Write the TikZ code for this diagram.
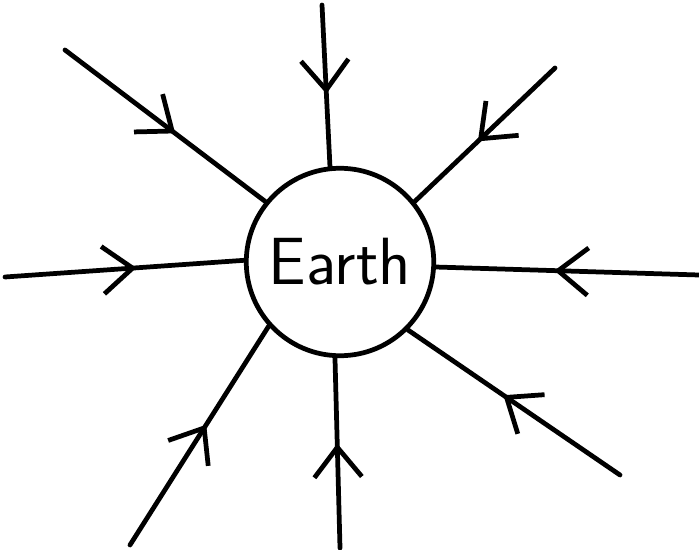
\documentclass[tikz,border=0pt]{standalone}
\usepackage{tikz}
\usetikzlibrary{arrows.meta,decorations.markings}

\begin{document}
\begin{tikzpicture}[x=0.02cm, y=-0.02cm, line width=2.7pt, line cap=round, line join=round,
  inflow/.style={draw, postaction={decorate},
    decoration={markings, mark=at position 0.55 with {\arrow{Straight Barb[length=17pt, width=27pt, line width=2.7pt]}}}}]
  \useasboundingbox (0,0) rectangle (699,550);

  % the planet
  \node[draw, circle, minimum size=3.75cm, inner sep=0pt, font=\sffamily\fontsize{38}{42}\selectfont] (earth) at (340,262) {Earth};

  % outer ends of the field lines
  \coordinate (nw) at (65,50);
  \coordinate (n) at (322,5);
  \coordinate (ne) at (555,68);
  \coordinate (w) at (5,277);
  \coordinate (e) at (699,275);
  \coordinate (se) at (620,475);
  \coordinate (s) at (340,548);
  \coordinate (sw) at (130,545);

  % everything points inward
  \foreach \from/\ang in {nw/141, n/96, ne/39, w/179, e/-3, se/-45, s/-93, sw/-138}
    \draw[inflow] (\from) -- (earth.\ang);
\end{tikzpicture}
\end{document}
